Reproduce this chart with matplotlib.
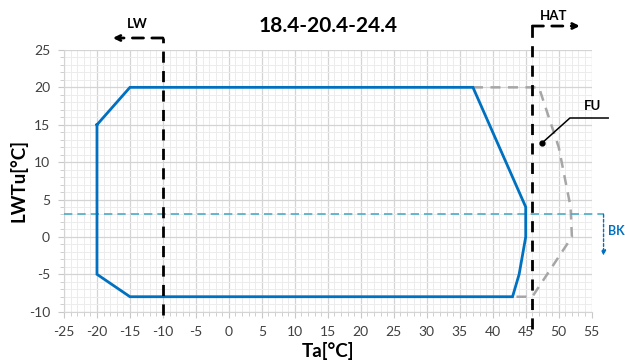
import matplotlib
matplotlib.use('Agg')
import matplotlib.pyplot as plt
from matplotlib.ticker import MultipleLocator

plt.rcParams['font.family'] = ['Lato', 'DejaVu Sans']
plt.rcParams['axes.unicode_minus'] = False

# operating envelope (blue)
env_x = [-20, -15, 37, 45, 45, 44, 43, -15, -20, -20]
env_y = [15, 20, 20, 4, 0, -5, -8, -8, -5, 15]

# extended envelope (grey dashed)
ext_x = [37, 47, 50, 51.8, 52, 46, 43]
ext_y = [20, 20, 12, 4, 0, -8, -8]

lw_limit = -10     # LW vertical limit
hat_limit = 46     # HAT vertical limit
bk_level = 3       # BK horizontal level

title = '18.4-20.4-24.4'

fig = plt.figure(figsize=(6.25, 3.62), dpi=100)
ax = fig.add_axes([0.1024, 0.139, 0.8443, 0.723])

ax.set_xlim(-25, 55)
ax.set_ylim(-10, 25)
ax.xaxis.set_major_locator(MultipleLocator(5))
ax.yaxis.set_major_locator(MultipleLocator(5))
ax.xaxis.set_minor_locator(MultipleLocator(1))
ax.yaxis.set_minor_locator(MultipleLocator(1))
ax.grid(which='major', color='#d4d4d4', lw=0.9)
ax.grid(which='minor', color='#ececec', lw=0.7)
ax.set_axisbelow(True)
for s in ax.spines.values():
    s.set_visible(False)
ax.spines['bottom'].set_visible(True)
ax.spines['bottom'].set_color('#d4d4d4')
ax.spines['left'].set_visible(True)
ax.spines['left'].set_color('#d4d4d4')
ax.tick_params(which='major', length=4, color='#c8c8c8', labelsize=10, labelcolor='#404040', pad=6)
ax.tick_params(which='minor', length=3, color='#c8c8c8')

ax.plot(env_x, env_y, color='#0070c0', lw=2, solid_joinstyle='miter', zorder=4)
ax.plot(ext_x, ext_y, color='#a6a6a6', lw=1.8, ls=(0, (4, 3)), zorder=3)

# BK line and arrow
ax.plot([-25, 56.8], [bk_level, bk_level], color='#4bacc6', lw=1.2, ls=(0, (5, 3)),
        clip_on=False, zorder=3)
ax.annotate('', xy=(56.8, -2.5), xytext=(56.8, bk_level),
            arrowprops=dict(arrowstyle='-|>', color='#0070c0', lw=1, ls=(0, (2, 1.5)),
                            mutation_scale=7, shrinkA=0, shrinkB=0),
            annotation_clip=False)
ax.text(57.5, 0.8, 'BK', color='#0070c0', fontsize=9, fontweight='bold',
        va='center', ha='left', clip_on=False)

# LW limit
ax.plot([lw_limit, lw_limit], [-10.5, 26.6], color='black', lw=2, ls=(0, (4, 3)),
        clip_on=False, zorder=5)
ax.annotate('', xy=(-17.6, 26.6), xytext=(lw_limit, 26.6),
            arrowprops=dict(arrowstyle='-|>', color='black', lw=2, ls=(0, (4, 3)),
                            mutation_scale=9, shrinkA=0, shrinkB=0),
            annotation_clip=False)
ax.text(-13.9, 28.5, 'LW', fontsize=9.5, fontweight='bold', ha='center', va='center')

# HAT limit
ax.plot([hat_limit, hat_limit], [-12.3, 28.2], color='black', lw=2, ls=(0, (4, 3)),
        clip_on=False, zorder=5)
ax.annotate('', xy=(53.2, 28.2), xytext=(hat_limit, 28.2),
            arrowprops=dict(arrowstyle='-|>', color='black', lw=2, ls=(0, (4, 3)),
                            mutation_scale=9, shrinkA=0, shrinkB=0),
            annotation_clip=False)
ax.text(49.3, 29.5, 'HAT', fontsize=9.5, fontweight='bold', ha='center', va='center')

# FU label
ax.plot([47.4, 51.7, 57.5], [12.5, 15.9, 15.9], color='black', lw=1.1, clip_on=False, zorder=5)
ax.plot([47.4], [12.5], 'o', color='black', ms=3.5, zorder=5)
ax.text(55.2, 17.5, 'FU', fontsize=9.5, fontweight='bold', ha='center', va='center')

ax.set_title(title, fontsize=15, fontweight='bold', pad=13)
ax.set_xlabel('Ta[°C]', fontsize=13.5, fontweight='bold', labelpad=3)
ax.set_ylabel('LWTu[°C]', fontsize=13.5, fontweight='bold', labelpad=1)

fig.savefig('out.png', dpi=100)
